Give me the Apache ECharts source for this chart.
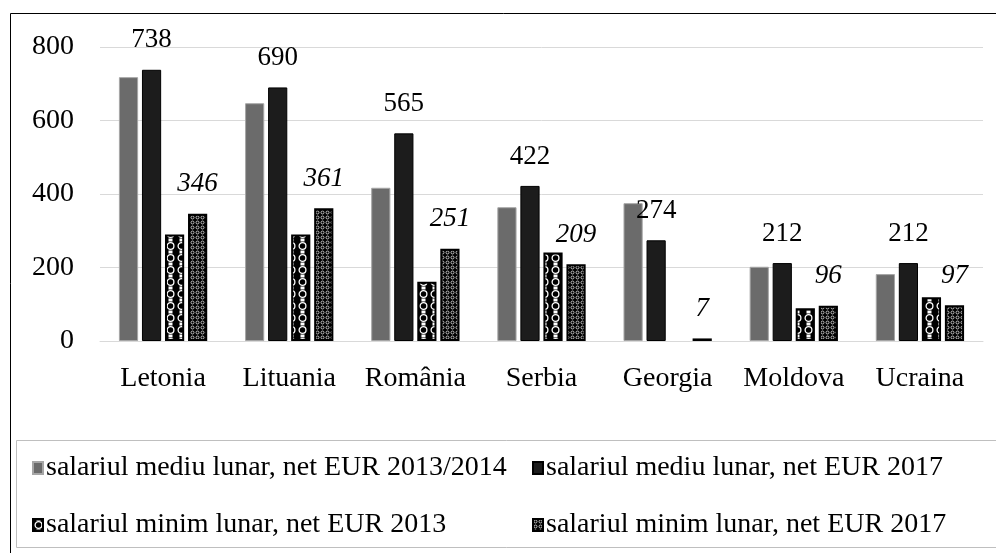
<!DOCTYPE html>
<html><head><meta charset="utf-8">
<script src="https://cdn.jsdelivr.net/npm/echarts@6/dist/echarts.min.js"></script>
<style>html,body{margin:0;padding:0;background:#fff}#c{width:996px;height:553px}</style>
</head><body><div id="c"></div>
<script>
const categories = ['Letonia','Lituania','România','Serbia','Georgia','Moldova','Ucraina'];
const seriesNames = ['salariul mediu lunar, net EUR 2013/2014','salariul mediu lunar, net EUR 2017','salariul minim lunar, net EUR 2013','salariul minim lunar, net EUR 2017'];
const mediu2013 = [718, 647, 417, 364, 375, 202, 182];
const mediu2017 = [738, 690, 565, 422, 274, 212, 212];
const minim2013 = [290, 290, 161, 241, null, 89, 119];
const minim2017 = [346, 361, 251, 209, 7, 96, 97];
const yTicks = [0, 200, 400, 600, 800];

const FONT = 'Liberation Serif';

function pattern1(){
  const c = document.createElement('canvas'); c.width = 11; c.height = 12;
  const g = c.getContext('2d');
  g.fillStyle = '#000'; g.fillRect(0,0,11,12);
  g.strokeStyle = '#fff'; g.lineWidth = 1.3;
  g.beginPath(); g.arc(5.5,6,3.4,0,Math.PI*2); g.stroke();
  g.fillStyle = '#fff';
  g.fillRect(3.5,0,4,1.5); g.fillRect(3.5,10.5,4,1.5);
  return c;
}
function pattern2(){
  const c = document.createElement('canvas'); c.width = 5; c.height = 5;
  const g = c.getContext('2d');
  g.fillStyle = '#000'; g.fillRect(0,0,5,5);
  g.strokeStyle = '#fff'; g.lineWidth = 0.7;
  g.beginPath(); g.arc(2.5,2.5,1.5,0,Math.PI*2); g.stroke();
  return c;
}
const p1 = {image: pattern1(), repeat: 'repeat'};
const p2 = {image: pattern2(), repeat: 'repeat'};

const chart = echarts.init(document.getElementById('c'), null, {renderer:'canvas'});

const labelBase = {show:true, position:'top', distance:16, fontFamily:FONT, fontSize:27, color:'#000'};
const legendText = {fontFamily:FONT, fontSize:28, color:'#000', padding:[0,0,0,-2]};

chart.setOption({
  animation:false,
  backgroundColor:'#fff',
  grid:{left:100, right:13, top:47, bottom:212},
  xAxis:{type:'category', data:categories,
    axisLine:{show:true, lineStyle:{color:'#d9d9d9', width:1}},
    axisTick:{show:false},
    axisLabel:{interval:0, fontFamily:FONT, fontSize:28, color:'#000', margin:24}},
  yAxis:{type:'value', min:yTicks[0], max:yTicks[yTicks.length-1], interval:200,
    axisLine:{show:false}, axisTick:{show:false},
    splitLine:{lineStyle:{color:'#d9d9d9', width:1}},
    axisLabel:{fontFamily:FONT, fontSize:28, color:'#000', margin:26}},
  legend:[
    {data:[seriesNames[0], seriesNames[2]], orient:'vertical', left:27, top:449, itemGap:29,
     itemWidth:10, itemHeight:12, icon:'rect', textStyle:legendText},
    {data:[seriesNames[1], seriesNames[3]], orient:'vertical', left:527, top:449, itemGap:29,
     itemWidth:10, itemHeight:12, icon:'rect', textStyle:legendText}
  ],
  graphic:[
    {type:'rect', shape:{x:10.5, y:13.5, width:1000, height:600}, style:{fill:'none', stroke:'#000', lineWidth:1}, silent:true, z:-1},
    {type:'rect', shape:{x:16.5, y:440.5, width:990, height:107}, style:{fill:'none', stroke:'#bfbfbf', lineWidth:1}, silent:true, z:-1}
  ],
  series:[
    {name:seriesNames[0], type:'bar', data:mediu2013, barCategoryGap:'30%', barGap:'20%',
     itemStyle:{color:'#6b6b6b', borderColor:'#a6a6a6', borderWidth:1}},
    {name:seriesNames[1], type:'bar', data:mediu2017,
     itemStyle:{color:'#1c1c1c', borderColor:'#000', borderWidth:1},
     label:labelBase},
    {name:seriesNames[2], type:'bar', data:minim2013,
     itemStyle:{color:p1, borderColor:'#000', borderWidth:2}},
    {name:seriesNames[3], type:'bar', data:minim2017,
     itemStyle:{color:p2, borderColor:'#000', borderWidth:2},
     label:Object.assign({}, labelBase, {fontStyle:'italic'})}
  ]
});
</script></body></html>
